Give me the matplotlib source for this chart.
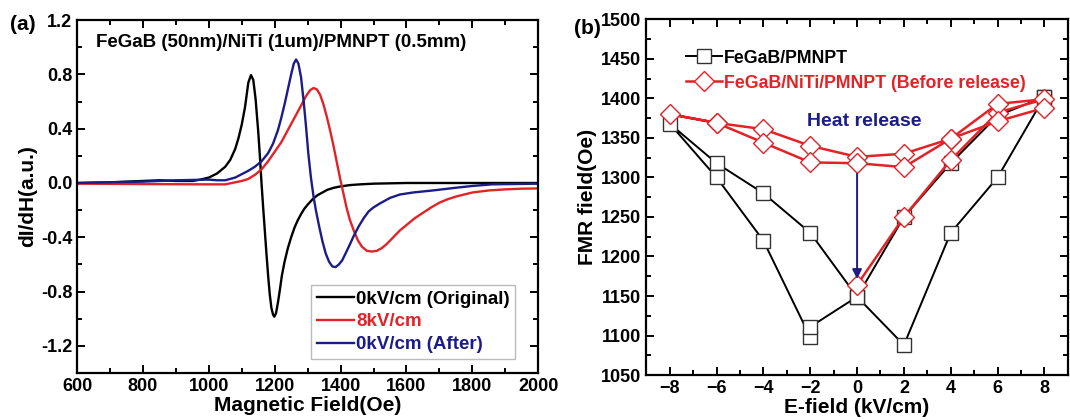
import matplotlib
matplotlib.use("Agg")
import matplotlib.pyplot as plt
from matplotlib.ticker import MultipleLocator

plt.rcParams['font.family'] = ['Liberation Sans', 'DejaVu Sans']
plt.rcParams['font.weight'] = 'bold'

RED = '#e32227'
NAVY = '#1c1c86'

# panel (a): FMR derivative spectra
h_orig = [600, 700, 800, 850, 900, 950, 975, 1000, 1025, 1050, 1065, 1080, 1090, 1100, 1110,
          1120, 1128, 1135, 1142, 1150, 1155, 1160, 1165, 1170, 1175, 1180, 1185, 1190, 1195,
          1199, 1204, 1210, 1215, 1222, 1230, 1240, 1250, 1260, 1270, 1280, 1290, 1300, 1315,
          1330, 1345, 1360, 1380, 1400, 1430, 1460, 1500, 1600, 1800, 2000]
v_orig = [0.0, 0.005, 0.015, 0.02, 0.015, 0.015, 0.025, 0.04, 0.07, 0.12, 0.17, 0.25, 0.33, 0.43, 0.56,
          0.74, 0.795, 0.76, 0.62, 0.38, 0.20, 0.0, -0.18, -0.35, -0.52, -0.68, -0.82, -0.92, -0.97,
          -0.985, -0.96, -0.88, -0.80, -0.68, -0.58, -0.48, -0.40, -0.33, -0.275, -0.23, -0.19, -0.16, -0.12,
          -0.09, -0.07, -0.05, -0.035, -0.025, -0.015, -0.01, -0.005, 0.0, 0.0, 0.0]

h_8kv = [600, 800, 1000, 1050, 1100, 1120, 1140, 1160, 1180, 1200, 1220, 1240, 1260, 1280,
         1295, 1308, 1318, 1328, 1338, 1348, 1358, 1368, 1378, 1388, 1398, 1408, 1418, 1428,
         1440, 1452, 1465, 1480, 1495, 1510, 1525, 1540, 1560, 1580, 1600, 1625, 1650, 1675,
         1700, 1725, 1750, 1800, 1850, 1900, 1950, 2000]
v_8kv = [-0.005, -0.008, -0.01, -0.01, 0.015, 0.03, 0.06, 0.10, 0.16, 0.23, 0.30, 0.39, 0.48, 0.57,
         0.64, 0.685, 0.70, 0.69, 0.65, 0.58, 0.49, 0.39, 0.28, 0.16, 0.04, -0.07, -0.18, -0.27,
         -0.35, -0.42, -0.47, -0.50, -0.505, -0.50, -0.48, -0.45, -0.40, -0.35, -0.31, -0.26, -0.22, -0.18,
         -0.145, -0.12, -0.10, -0.07, -0.055, -0.047, -0.042, -0.04]

h_after = [600, 800, 900, 1000, 1025, 1050, 1065, 1080, 1100, 1120, 1140, 1160, 1180, 1195,
           1210, 1220, 1230, 1240, 1250, 1258, 1265, 1272, 1280, 1288, 1295, 1302, 1310, 1318,
           1325, 1335, 1345, 1355, 1365, 1375, 1385, 1395, 1405, 1415, 1425, 1440, 1455, 1470,
           1485, 1500, 1520, 1550, 1580, 1620, 1680, 1750, 1800, 1860, 2000]
v_after = [0.0, 0.01, 0.02, 0.025, 0.02, 0.02, 0.03, 0.04, 0.065, 0.09, 0.12, 0.16, 0.22, 0.29,
           0.39, 0.48, 0.58, 0.69, 0.80, 0.88, 0.91, 0.88, 0.78, 0.60, 0.42, 0.22, 0.04, -0.10,
           -0.20, -0.32, -0.43, -0.52, -0.58, -0.615, -0.62, -0.60, -0.57, -0.52, -0.47, -0.39, -0.32, -0.26,
           -0.21, -0.18, -0.15, -0.11, -0.085, -0.07, -0.055, -0.035, -0.022, -0.01, -0.005]

# panel (b): FMR field vs E-field loops
e_black = [8, 6, 4, 2, 0, -2, -4, -6, -8, -6, -4, -2, -2, 0, 2, 4, 6, 8]
fmr_black = [1402, 1300, 1230, 1088, 1149, 1230, 1280, 1318, 1368, 1300, 1220, 1098, 1111, 1149,
             1250, 1318, 1378, 1402]

e_red = [0, 2, 4, 6, 8, 6, 4, 2, 0, -2, -4, -6, -8, -6, -4, -2, 0, 2, 4, 6, 8]
fmr_red = [1164, 1250, 1322, 1382, 1399, 1393, 1349, 1330, 1326, 1340, 1361, 1369, 1380, 1369,
           1344, 1319, 1318, 1313, 1349, 1371, 1388]


def style_axes(ax):
    ax.tick_params(which='both', direction='in', top=True, right=True, width=1.4,
                   labelsize=13)
    ax.tick_params(which='major', length=6)
    ax.tick_params(which='minor', length=3.5)
    for s in ax.spines.values():
        s.set_linewidth(1.6)
    for lab in ax.get_xticklabels() + ax.get_yticklabels():
        lab.set_fontweight('bold')


fig = plt.figure(figsize=(10.7, 4.2), dpi=100)

# ---- panel (a)
ax1 = fig.add_axes([0.072, 0.112, 0.431, 0.840])
ax1.plot(h_orig, v_orig, color='black', lw=1.7, label='0kV/cm (Original)')
ax1.plot(h_8kv, v_8kv, color=RED, lw=1.7, label='8kV/cm')
ax1.plot(h_after, v_after, color=NAVY, lw=1.7, label='0kV/cm (After)')
ax1.set_xlim(600, 2000)
ax1.set_ylim(-1.4, 1.2)
ax1.xaxis.set_major_locator(MultipleLocator(200))
ax1.xaxis.set_minor_locator(MultipleLocator(100))
ax1.yaxis.set_minor_locator(MultipleLocator(0.2))
ax1.set_yticks([1.2, 0.8, 0.4, 0.0, -0.4, -0.8, -1.2])
ax1.set_yticklabels(['1.2', '0.8', '0.4', '0.0', '-0.4', '-0.8', '-1.2'])
style_axes(ax1)
ax1.set_xlabel('Magnetic Field(Oe)', fontsize=15, fontweight='bold', labelpad=1)
ax1.set_ylabel('dI/dH(a.u.)', fontsize=15, fontweight='bold', labelpad=3)
ax1.text(0.041, 0.962, 'FeGaB (50nm)/NiTi (1um)/PMNPT (0.5mm)', transform=ax1.transAxes,
         fontsize=13.5, fontweight='bold', va='top')
leg1 = ax1.legend(loc='lower right', bbox_to_anchor=(0.95, 0.04), fontsize=13.5,
                  handlelength=2.0, handletextpad=0.1, borderpad=0.3, labelspacing=0.3,
                  borderaxespad=0, fancybox=False, framealpha=1, edgecolor='#bbbbbb')
for t, c in zip(leg1.get_texts(), ['black', RED, NAVY]):
    t.set_color(c)
    t.set_fontweight('bold')
fig.text(0.009, 0.942, '(a)', fontsize=15, fontweight='bold', va='center')

# ---- panel (b)
ax2 = fig.add_axes([0.604, 0.107, 0.394, 0.847])
ax2.plot(e_black, fmr_black, color='black', lw=1.4, marker='s', markersize=10,
         markerfacecolor='white', markeredgecolor='#333333', markeredgewidth=1.0,
         label='FeGaB/PMNPT', zorder=2)
ax2.plot(e_red, fmr_red, color=RED, lw=1.8, marker='D', markersize=10,
         markerfacecolor='white', markeredgecolor=RED, markeredgewidth=1.0,
         label='FeGaB/NiTi/PMNPT (Before release)', zorder=3)
ax2.annotate('', xy=(0, 1168), xytext=(0, 1308),
             arrowprops=dict(arrowstyle='-|>', color=NAVY, lw=1.4, mutation_scale=14))
ax2.text(0.3, 1371, 'Heat release', color=NAVY, fontsize=14, fontweight='bold',
         ha='center', va='center')
ax2.set_xlim(-9, 9)
ax2.set_ylim(1050, 1500)
ax2.xaxis.set_major_locator(MultipleLocator(2))
ax2.xaxis.set_minor_locator(MultipleLocator(1))
ax2.yaxis.set_major_locator(MultipleLocator(50))
ax2.yaxis.set_minor_locator(MultipleLocator(25))
style_axes(ax2)
ax2.set_xlabel('E-field (kV/cm)', fontsize=15, fontweight='bold', labelpad=1)
ax2.set_ylabel('FMR field(Oe)', fontsize=15, fontweight='bold', labelpad=3)
leg2 = ax2.legend(loc='upper left', bbox_to_anchor=(0.085, 0.925), fontsize=12.8,
                  frameon=False, handlelength=2.05, handletextpad=0.1, labelspacing=0.45,
                  borderpad=0.2, borderaxespad=0)
for t, c in zip(leg2.get_texts(), ['black', RED]):
    t.set_color(c)
    t.set_fontweight('bold')
fig.text(0.536, 0.931, '(b)', fontsize=15, fontweight='bold', va='center')

fig.savefig('out.png', dpi=100)
